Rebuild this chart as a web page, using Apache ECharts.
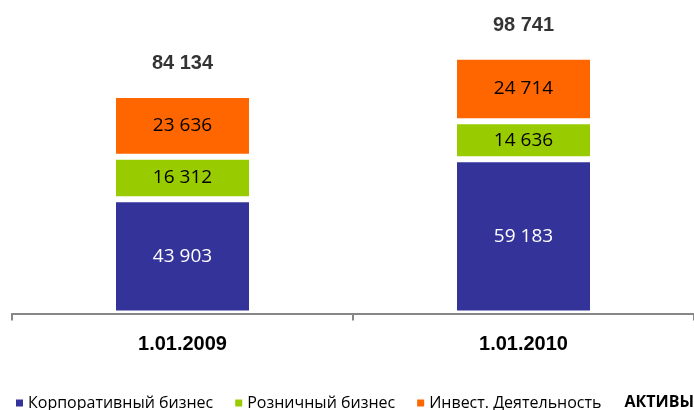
<!DOCTYPE html>
<html>
<head>
<meta charset="utf-8">
<script src="https://cdn.jsdelivr.net/npm/echarts@6/dist/echarts.min.js"></script>
<style>
	html, body { margin: 0; padding: 0; background: #fff; }
	#chart { width: 694px; height: 410px; }
</style>
</head>
<body>
<div id="chart"></div>
<script>
	// данные с картинки
	var categories = ['1.01.2009', '1.01.2010'];
	var corporate = [43903, 59183];
	var retail = [16312, 14636];
	var invest = [23636, 24714];
	var totals = [84134, 98741];

	var segFont = '"Open Sans", "Noto Sans", sans-serif';

	function fmt(v) {
		// 84134 -> "84 134"
		return String(v).replace(/\B(?=(\d{3})+(?!\d))/g, ' ');
	}

	function segment(name, data, color, labelColor) {
		return {
			name: name,
			type: 'bar',
			stack: 'total',
			barWidth: 139,
			data: data,
			itemStyle: { color: color, borderColor: '#fff', borderWidth: 3 },
			label: {
				show: true,
				position: 'inside',
				color: labelColor,
				fontFamily: segFont,
				fontSize: 19,
				formatter: function (p) { return fmt(p.value); }
			}
		};
	}

	var chart = echarts.init(document.getElementById('chart'));
	chart.setOption({
		animation: false,
		title: {
			text: 'АКТИВЫ',
			right: 0,
			top: 394,
			padding: 0,
			textStyle: { fontFamily: segFont, fontWeight: 'bold', fontSize: 16, color: '#000' }
		},
		legend: {
			left: 14,
			top: 395,
			padding: 0,
			itemWidth: 9,
			itemHeight: 9,
			itemGap: 20,
			icon: 'rect',
			textStyle: { fontFamily: segFont, fontSize: 16, color: '#000', padding: [0, 0, 0, -1] },
			data: ['Корпоративный бизнес', 'Розничный бизнес', 'Инвест. Деятельность']
		},
		grid: { left: 12, right: 0, top: 53, bottom: 96.5 },
		xAxis: {
			type: 'category',
			data: categories,
			z: 5,
			axisLine: { lineStyle: { color: '#878787', width: 2 } },
			axisTick: { show: true, length: 7, lineStyle: { color: '#878787', width: 2 } },
			axisLabel: {
				margin: 21,
				fontFamily: '"Liberation Sans", Arial, sans-serif',
				fontWeight: 'bold',
				fontSize: 20,
				color: '#000'
			}
		},
		yAxis: { type: 'value', min: 0, max: 100000, show: false },
		series: [
			segment('Корпоративный бизнес', corporate, '#333399', '#fff'),
			segment('Розничный бизнес', retail, '#99cc00', '#000'),
			segment('Инвест. Деятельность', invest, '#ff6600', '#000'),
			{
				type: 'scatter',
				symbolSize: 0,
				data: totals,
				silent: true,
				label: {
					show: true,
					position: 'top',
					distance: 21,
					fontFamily: '"Liberation Sans", Arial, sans-serif',
					fontWeight: 'bold',
					fontSize: 20,
					color: '#000',
					formatter: function (p) { return fmt(p.value); }
				}
			}
		]
	});
</script>
</body>
</html>
